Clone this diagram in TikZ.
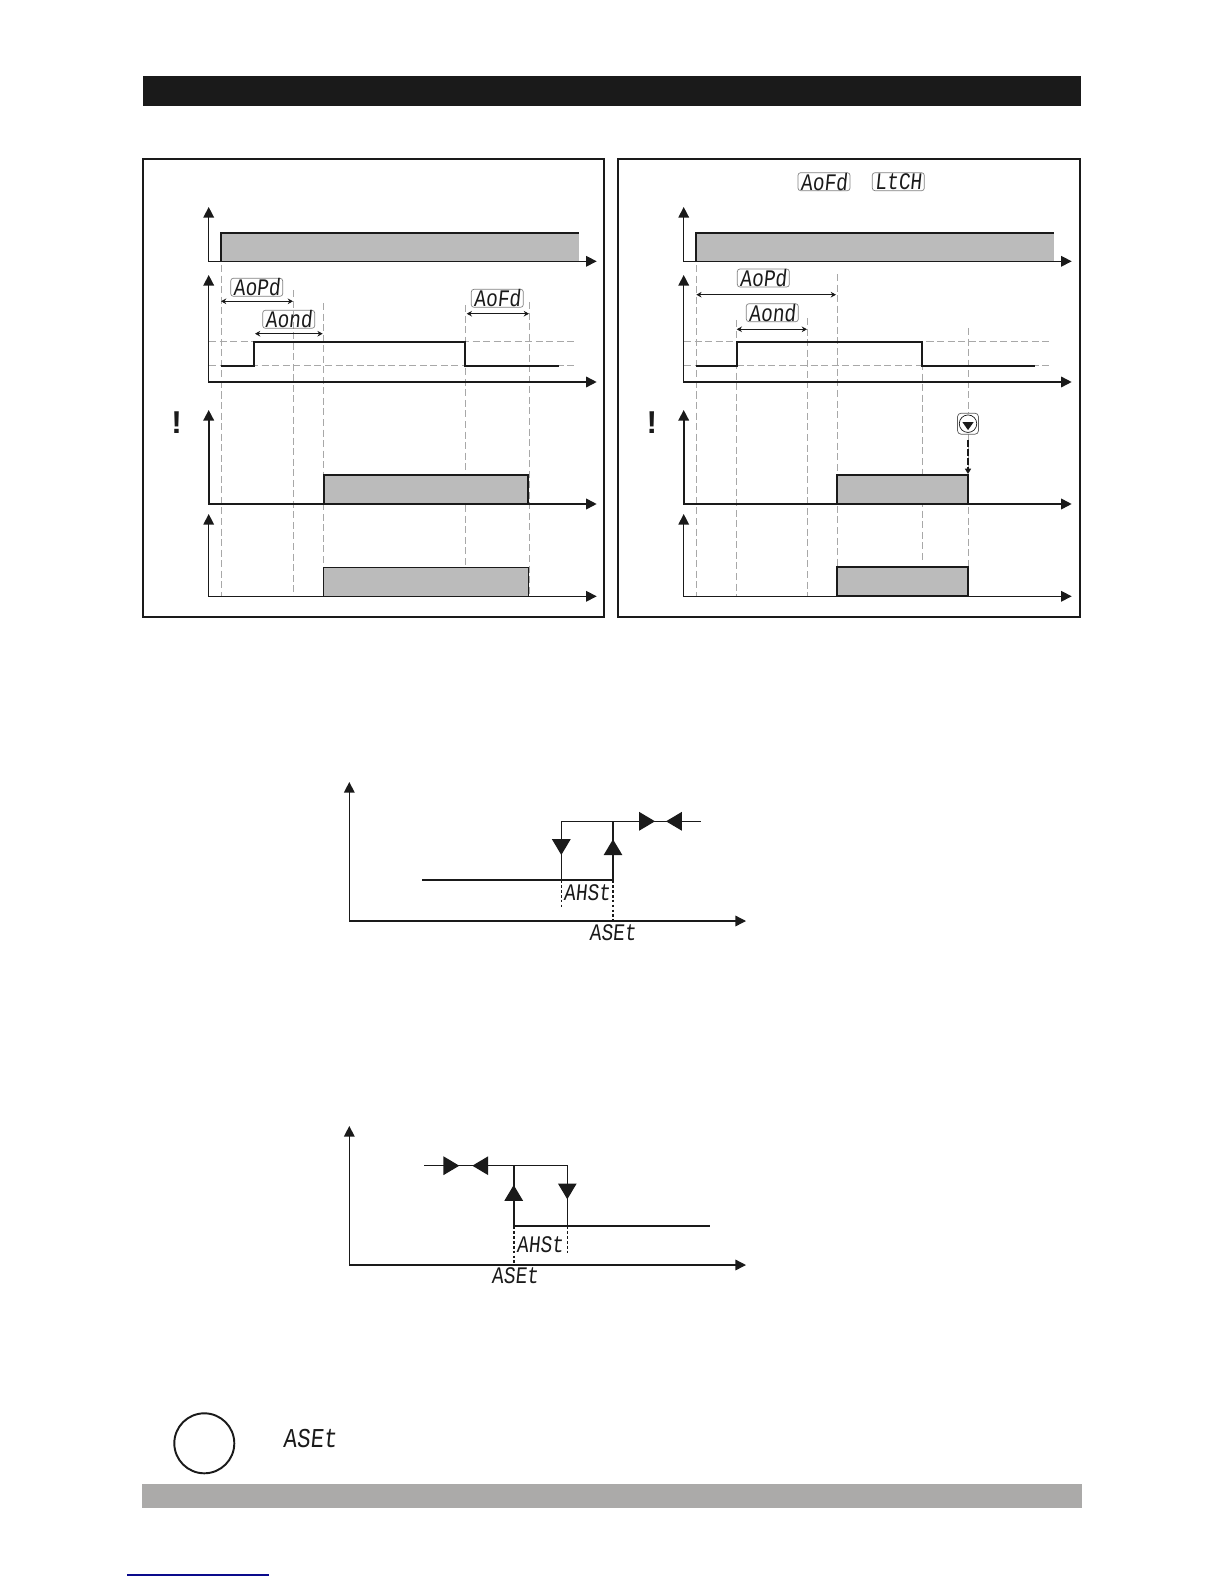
\documentclass[tikz,border=0pt]{standalone}
\usepackage{fontspec}
\setmainfont{Liberation Sans}
\newfontfamily\segfont[FakeSlant=0.1,FakeStretch=0.82]{Liberation Mono}
\usetikzlibrary{arrows.meta, positioning, shapes.geometric, calc}
\definecolor{cink}{HTML}{1A1A1A}
\definecolor{cpulse}{HTML}{BBBBBB}
\definecolor{cbar}{HTML}{ABAAA9}
\definecolor{cguide}{HTML}{A8A8A8}
\definecolor{clink}{HTML}{0A0A8C}
\tikzset{
  every picture/.style={line width=0.7pt},
  panel/.style={draw=cink, line width=1pt},
  axis/.style={draw=cink, line width=0.75pt, {Triangle[length=6pt,width=6pt]}-{Triangle[length=6pt,width=6pt]}},
  sig/.style={draw=cink, line width=0.95pt},
  pulse/.style={fill=cpulse},
  guide/.style={draw=cguide, line width=0.5pt, dash pattern=on 4pt off 2pt},
  dim/.style={draw=cink, line width=0.6pt, {Stealth[length=3pt,width=3.2pt]}-{Stealth[length=3pt,width=3.2pt]}},
  seg/.style={font=\segfont\fontsize{13.5}{13.5}\selectfont, text=cink, inner sep=0pt},
  seglarge/.style={font=\segfont\fontsize{15.5}{15.5}\selectfont, text=cink, inner sep=0pt},
  segbox/.style={seg, draw=cink!55, line width=0.4pt, rounded corners=1.5pt, minimum width=1.04cm, minimum height=0.36cm},
  bigtip/.style={draw=cink, line width=0.8pt, -{Triangle[length=9pt,width=10.5pt]}},
  level/.style={draw=cink, line width=0.8pt},
  levelbold/.style={draw=cink, line width=1.1pt},
  dots/.style={draw=cink, line width=0.6pt, dash pattern=on 1.6pt off 1.2pt},
}
\begin{document}
\begin{tikzpicture}[x=0.02cm, y=-0.02cm]
  \useasboundingbox (0,0) rectangle (1224,1584);
  % ---------- page bars ----------
  \fill[cink] (143,76) rectangle (1081,106);
  \fill[cbar] (142,1484) rectangle (1082,1508);
  \coordinate (linka) at (127,1575);
  \coordinate (linkb) at (269,1575);
  \draw[clink, line width=0.6pt] (linka) -- (linkb);
  % ---------- panels and their axes ----------
  \draw[panel] (143,159) rectangle (604,617);
  \draw[panel] (618,159) rectangle (1080,617);
  % ---------- guides: name/x/top/bottom ----------
  \foreach \n/\x/\top/\bot in {la/221/265/596, lb/293.7/290/596, lc/323.5/303/596, ld/465.7/305/566, le/529/302/596,
                               ra/696.3/265/596, rb/736.7/320/596, rc/807/318/596, rd/837/274/596, re/922.3/342/562, rf/968.3/328/596} {
    \coordinate (\n a) at (\x,\top);
    \coordinate (\n b) at (\x,\bot);
    \draw[guide] (\n a) -- (\n b);
  }
  \foreach \n/\xa/\xb in {l/209/577, r/684/1052} \foreach \y [count=\i] in {341.7, 365.7} {
    \coordinate (h\n\i a) at (\xa,\y);
    \coordinate (h\n\i b) at (\xb,\y);
    \draw[guide] (h\n\i a) -- (h\n\i b);
  }
  % ---------- left panel pulses ----------
  \fill[pulse] (221,232.7) rectangle (579,261);
  \draw[sig] (221,261) |- (579,232.7);
  \draw[sig] (221,365.7) -- (253.7,365.7) -- (253.7,341.7) -- (464.7,341.7) -- (464.7,365.7) -- (559.3,365.7);
  \filldraw[sig, pulse] (323.7,474.7) rectangle (528.3,504);
  \filldraw[sig, pulse, line width=0.75pt] (323.3,567.3) rectangle (528.3,596.3);
  % ---------- right panel pulses ----------
  \fill[pulse] (696.3,232.7) rectangle (1054,261);
  \draw[sig] (696.3,261) |- (1054,232.7);
  \draw[sig] (696.3,365.7) -- (736.7,365.7) -- (736.7,341.7) -- (922.3,341.7) -- (922.3,365.7) -- (1035,365.7);
  \filldraw[sig, pulse] (837,474.7) rectangle (968,504);
  \filldraw[sig, pulse] (837,567.3) rectangle (968,596.3);
  % ---------- axes: top/base/width ----------
  \foreach \p/\xo in {l/208.7, r/683.7} \foreach \top/\base/\w [count=\i] in {207/261.3/0.8, 275/382/0.85, 410/504/0.95, 514/596.3/0.75} {
    \coordinate (\p t\i) at (\xo,\top);
    \coordinate (\p e\i) at (\xo+388,\base);
    \draw[axis, line width=\w pt] (\p t\i) |- (\p e\i);
  }
  % ---------- timing labels: name/xa/xb/y/label x/label y/text ----------
  \foreach \n/\xa/\xb/\y/\tx/\ty/\lab in {lpd/221/293/301.3/256.7/287.3/AoPd, lon/255/322.7/333.7/288.7/319.3/Aond, lof/466.7/529/313.7/497.3/298.3/AoFd,
                                          rpd/696.3/836/294.7/763.3/278/AoPd, ron/736.7/807/329.3/772.3/312.7/Aond} {
    \node[segbox] (\n) at (\tx,\ty) {\lab};
    \coordinate (\n a) at (\xa,\y);
    \coordinate (\n b) at (\xb,\y);
    \draw[dim] (\n a) -- (\n b);
  }
  \node[segbox] (topof) at (824,181.7) {AoFd};
  \node[segbox] (toplt) at (898.3,181.7) {LtCH};
  \node[font=\bfseries\fontsize{18}{18}\selectfont, text=cink] (lbang) at (176.7,423) {!};
  \node[font=\bfseries\fontsize{18}{18}\selectfont, text=cink] (rbang) at (652,423) {!};
  % ---------- reset button ----------
  \node[draw=cink!70, line width=0.4pt, fill=white, rounded corners=2pt, minimum size=0.42cm, inner sep=0pt] (btn) at (968,423.7) {};
  \node[draw=cink, line width=0.4pt, circle, minimum size=0.35cm, inner sep=0pt] (btnring) at (btn) {};
  \node[fill=cink, isosceles triangle, isosceles triangle apex angle=70, shape border rotate=-90, minimum size=0.16cm, inner sep=0pt] (btntri) at (968,425) {};
  \coordinate (btnend) at (968,474);
  \draw[draw=cink, line width=1pt, dash pattern=on 4pt off 1.2pt, -{Triangle[length=3pt,width=3.4pt]}] (btn.south) ++(0,5) coordinate (btnout) -- (btnend);
  % ---------- upper hysteresis ----------
  \coordinate (ao) at (349.3,921);
  \coordinate (at) at (349.3,782);
  \coordinate (ae) at (746,921);
  \draw[axis] (at) |- (ae);
  \coordinate (alowa) at (422.3,880);
  \coordinate (alowb) at (561.3,880);
  \coordinate (alowc) at (613,880);
  \coordinate (ahia) at (561.3,821.3);
  \coordinate (ahib) at (613,821.3);
  \coordinate (ahic) at (700.7,821.3);
  \draw[level] (alowa) -- (alowc);
  \draw[levelbold] (alowc) -- (ahib);
  \draw[level] (alowb) -- (ahia) -- (ahic);
  \coordinate (atipd) at (561.3,855);
  \coordinate (atipu) at (613,839.3);
  \coordinate (atipr) at (655,821.3);
  \coordinate (atipl) at (666,821.3);
  \draw[bigtip] (ahia) -- (atipd);
  \draw[bigtip] (alowc) -- (atipu);
  \draw[bigtip] (ahib) -- (atipr);
  \draw[bigtip] (ahic) -- (atipl);
  \coordinate (adota) at (561.3,908);
  \coordinate (adotb) at (613,921);
  \draw[dots] (alowb) -- (adota);
  \draw[dots, line width=0.95pt] (alowc) -- (adotb);
  \node[seg] (ahst) at (587,892.7) {AHSt};
  \node[seg] (aset) at (612.7,932.3) {ASEt};
  % ---------- lower hysteresis ----------
  \coordinate (bt) at (349.3,1126);
  \coordinate (be) at (746,1265);
  \draw[axis] (bt) |- (be);
  \coordinate (bhia) at (424.3,1165.7);
  \coordinate (bhib) at (513.7,1165.7);
  \coordinate (bhic) at (567.3,1165.7);
  \coordinate (blowa) at (513.7,1226);
  \coordinate (blowb) at (567.3,1226);
  \coordinate (blowc) at (710,1226);
  \draw[level] (bhia) -- (bhic) -- (blowb);
  \draw[levelbold] (bhib) -- (blowa) -- (blowc);
  \coordinate (btipu) at (513.7,1185);
  \coordinate (btipd) at (567.3,1199.3);
  \coordinate (btipr) at (459.3,1165.7);
  \coordinate (btipl) at (472.3,1165.7);
  \draw[bigtip] (blowa) -- (btipu);
  \draw[bigtip] (bhic) -- (btipd);
  \draw[bigtip] (bhia) -- (btipr);
  \draw[bigtip] (bhib) -- (btipl);
  \coordinate (bdota) at (513.7,1265);
  \coordinate (bdotb) at (567.3,1254);
  \draw[dots, line width=0.95pt] (blowa) -- (bdota);
  \draw[dots] (blowb) -- (bdotb);
  \node[seg] (bhst) at (540,1245) {AHSt};
  \node[seg] (bset) at (515,1275.7) {ASEt};
  % ---------- note at the foot ----------
  \node[draw=cink, line width=1.1pt, circle, minimum size=1.2cm, inner sep=0pt] (note) at (204.3,1443.3) {};
  \node[seglarge] (noteset) at (310,1439) {ASEt};
\end{tikzpicture}
\end{document}
